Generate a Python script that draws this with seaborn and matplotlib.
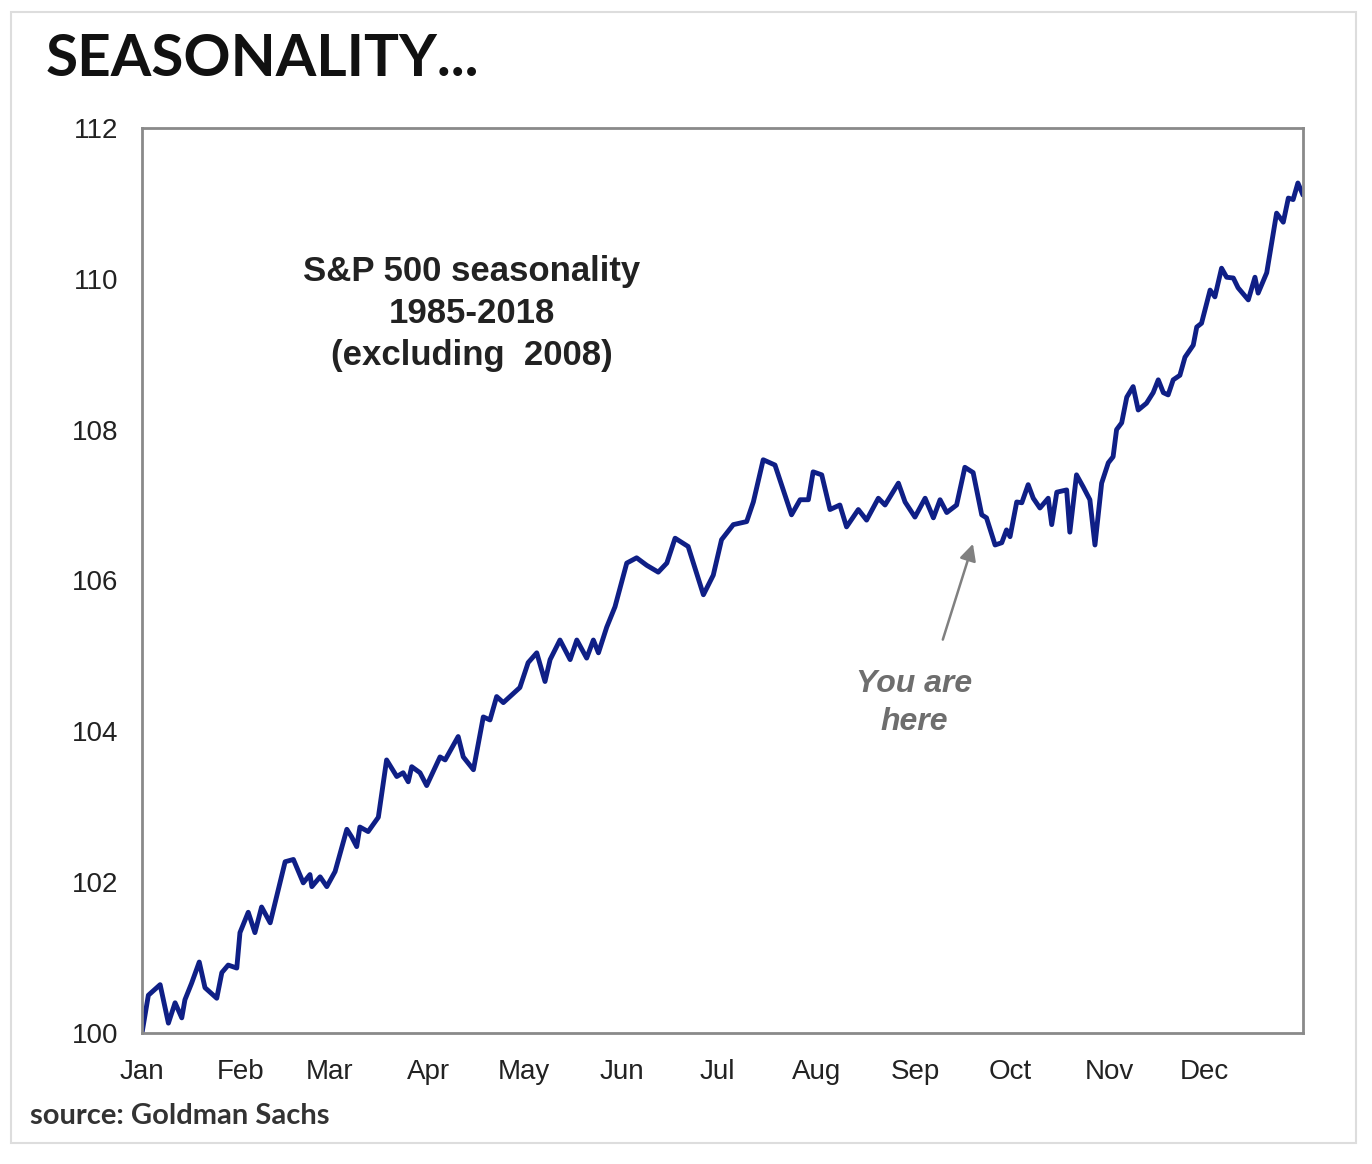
import matplotlib
matplotlib.use("Agg")
import matplotlib.pyplot as plt
import matplotlib.patches as mpatches
import numpy as np
import pandas as pd
import seaborn as sns

# ---- data (day of year, index level) ----
days = [0, 2, 5.7, 8.3, 10.4, 12.5, 13.5, 15.6, 18.0, 19.8, 23.5, 25.1, 27.1, 29.8,
        30.8, 33.4, 35.5, 37.6, 40.3, 45.0, 47.6, 50.7, 52.8, 53.4, 56.0, 58.1,
        60.7, 64.4, 65.9, 67.5, 68.5, 71.1, 74.3, 76.9, 80.1, 82.1, 83.7, 84.8,
        87.4, 89.5, 93.7, 95.3, 99.4, 101.0, 104.2, 107.3, 109.4, 111.5, 113.6,
        118.8, 121.4, 124.1, 126.7, 128.3, 131.4, 134.6, 136.7, 139.8, 141.9,
        143.5, 146.1, 148.7, 152.4, 155.5, 158.7, 162.3, 165.0, 167.6, 171.7,
        176.5, 179.6, 182.2, 185.9, 190.1, 192.2, 195.3, 199.0, 204.2, 206.9,
        209.5, 211.0, 213.7, 216.3, 219.4, 221.5, 225.2, 227.8, 231.5, 233.6,
        237.8, 239.9, 243.0, 246.2, 248.8, 250.9, 253.0, 256.1, 258.7, 261.3,
        264.0, 265.5, 268.2, 270.3, 271.8, 272.9, 275.0, 276.6, 278.6, 280.2,
        282.3, 284.9, 286.0, 287.6, 290.7, 291.7, 293.8, 295.9, 298.0, 299.6,
        301.7, 303.8, 305.3, 306.4, 308.0, 309.6, 311.6, 313.2, 315.8, 317.9,
        319.5, 321.1, 322.6, 324.2, 326.3, 327.9, 330.5, 331.6, 333.1, 335.8,
        337.3, 339.4, 341.0, 343.1, 344.6, 347.8, 349.9, 350.9, 353.6, 356.7,
        358.8, 360.4, 361.9, 363.4, 365.0]
values = [100.0, 100.5, 100.64, 100.13, 100.4, 100.2, 100.44, 100.66, 100.94, 100.6,
          100.46, 100.8, 100.9, 100.86, 101.33, 101.6, 101.33, 101.67, 101.46,
          102.27, 102.3, 101.99, 102.1, 101.94, 102.07, 101.94, 102.14, 102.7,
          102.6, 102.47, 102.73, 102.67, 102.86, 103.62, 103.4, 103.45, 103.33,
          103.53, 103.45, 103.28, 103.66, 103.62, 103.93, 103.66, 103.49, 104.19,
          104.15, 104.46, 104.38, 104.58, 104.91, 105.04, 104.66, 104.95, 105.21,
          104.95, 105.21, 104.97, 105.21, 105.04, 105.38, 105.65, 106.23, 106.3,
          106.2, 106.11, 106.23, 106.56, 106.45, 105.81, 106.07, 106.54, 106.74,
          106.78, 107.04, 107.6, 107.53, 106.87, 107.07, 107.07, 107.44, 107.4,
          106.94, 107.0, 106.71, 106.94, 106.8, 107.09, 107.0, 107.29, 107.04,
          106.84, 107.09, 106.83, 107.07, 106.9, 107.0, 107.5, 107.43, 106.87,
          106.83, 106.47, 106.5, 106.67, 106.58, 107.04, 107.03, 107.27, 107.09,
          106.96, 107.09, 106.74, 107.17, 107.2, 106.64, 107.4, 107.24, 107.07,
          106.47, 107.29, 107.56, 107.64, 108.0, 108.09, 108.43, 108.57, 108.26,
          108.35, 108.49, 108.66, 108.49, 108.46, 108.66, 108.72, 108.96, 109.12,
          109.36, 109.41, 109.85, 109.76, 110.14, 110.02, 110.01, 109.88, 109.72,
          110.02, 109.81, 110.08, 110.87, 110.75, 111.07, 111.05, 111.27, 111.11]

month_labels = ["Jan", "Feb", "Mar", "Apr", "May", "Jun", "Jul", "Aug", "Sep",
                "Oct", "Nov", "Dec"]
month_starts = [0, 31, 59, 90, 120, 151, 181, 212, 243, 273, 304, 334]
y_ticks = [100, 102, 104, 106, 108, 110, 112]

df = pd.DataFrame({"day": days, "value": values})

sns.set_style("white")
plt.rcParams["font.family"] = ["Liberation Sans", "DejaVu Sans"]

fig = plt.figure(figsize=(13.72, 11.64), dpi=100)
ax = fig.add_axes([0.1035, 0.1126, 0.8462, 0.7775])

sns.lineplot(data=df, x="day", y="value", ax=ax, color="#0f1f86",
             linewidth=3.5, estimator=None, sort=False)

ax.set_xlim(0, 365)
ax.set_ylim(100, 112)
ax.set_xticks(month_starts + [365])
ax.set_xticklabels(month_labels + [""], fontsize=20, color="#222222")
ax.set_yticks(y_ticks)
ax.set_yticklabels([str(v) for v in y_ticks], fontsize=20, color="#222222")
ax.set_xlabel("")
ax.set_ylabel("")
ax.tick_params(axis="x", direction="out", length=7, width=1.5,
               color="#888888", pad=12)
ax.tick_params(axis="y", direction="out", length=7, width=1.5,
               color="#888888", pad=10)
for s in ax.spines.values():
    s.set_color("#8a8a8a")
    s.set_linewidth(2)
    s.set_visible(True)

ax.text(0.284, 0.86, "S&P 500 seasonality\n1985-2018\n(excluding  2008)",
        transform=ax.transAxes, ha="center", va="top", fontsize=25,
        fontweight="bold", color="#222222", linespacing=1.35)

ax.annotate("", xy=(261.5, 106.52), xytext=(251.5, 105.18),
            arrowprops=dict(arrowstyle="-|>,head_length=1.0,head_width=0.5",
                            color="#808080", lw=1.8))
ax.text(242.8, 104.82, "You are\nhere", ha="center", va="top", fontsize=23,
        fontweight="bold", fontstyle="italic", color="#6e6e6e",
        linespacing=1.35)

fig.text(0.033, 0.949, "SEASONALITY...", ha="left", va="center",
         fontsize=42, fontweight="bold", color="#111111",
         family=["Lato", "DejaVu Sans"])
fig.text(0.022, 0.041, "source: Goldman Sachs", ha="left", va="center",
         fontsize=21, fontweight="bold", color="#333333",
         family=["Lato", "DejaVu Sans"])

fig.patches.append(mpatches.Rectangle((0.008, 0.018), 0.98, 0.972,
                                      transform=fig.transFigure, fill=False,
                                      edgecolor="#dddddd", linewidth=1.5))

fig.savefig("out.png", dpi=100, facecolor="white")
